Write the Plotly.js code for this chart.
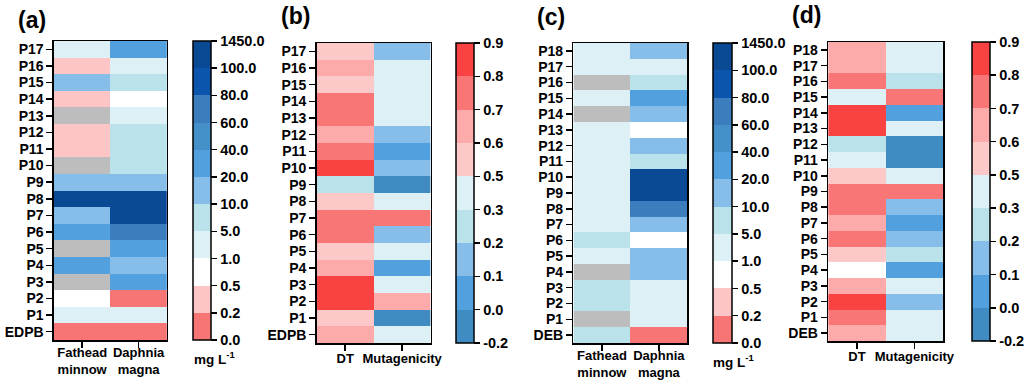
<!DOCTYPE html>
<html><head><meta charset="utf-8">
<script src="https://cdn.plot.ly/plotly-3.0.1.min.js"></script>
<style>html,body{margin:0;padding:0;background:#fff}#chart{width:1024px;height:385px}</style>
</head><body><div id="chart"></div>
<script>
// ---------- DATA (rows listed bottom -> top) ----------
const rowsA = ['EDPB','P1','P2','P3','P4','P5','P6','P7','P8','P9','P10','P11','P12','P13','P14','P15','P16','P17'];
const rowsC = ['DEB','P1','P2','P3','P4','P5','P6','P7','P8','P9','P10','P11','P12','P13','P14','P15','P16','P17','P18'];
const colsTox = ['Fathead<br>minnow','Daphnia<br>magna'];
const colsProp = ['DT','Mutagenicity'];

// (a) toxicity, mg L-1 (null = not available)
const a_fathead = [0.12, 2.5, 0.8, null, 28.4, null, 31.2, 14.6, 215, 16.3, null, 0.34, 0.41, null, 0.29, 12.8, 0.38, 3.6];
const a_daphnia = [0.09, 2.1, 0.15, 25.7, 13.2, 22.4, 66.3, 148, 312, 17.5, 6.8, 7.2, 8.1, 4.2, 0.72, 5.9, 3.3, 24.6];
// (b) probabilities
const b_dt  = [0.65, 0.55, 0.85, 0.84, 0.63, 0.56, 0.74, 0.76, 0.54, 0.27, 0.82, 0.73, 0.66, 0.72, 0.75, 0.57, 0.64, 0.53];
const b_mut = [0.38, -0.08, 0.62, 0.42, 0.06, 0.35, 0.14, 0.71, 0.44, -0.05, 0.16, 0.04, 0.12, 0.33, 0.37, 0.41, 0.39, 0.18];
// (c) toxicity, mg L-1
const c_fathead = [6.4, null, 7.1, 8.3, null, 2.7, 5.6, 3.1, 2.2, 4.5, 1.8, 3.9, 2.6, 1.4, null, 3.4, null, 2.9, 4.1];
const c_daphnia = [0.13, 3.7, 2.4, 1.9, 14.1, 11.8, 0.66, 16.2, 71.5, 186, 254, 8.7, 13.6, 0.91, 18.4, 27.3, 6.2, 4.4, 12.5];
// (d) probabilities
const d_dt  = [0.64, 0.74, 0.86, 0.63, null, 0.56, 0.72, 0.67, 0.75, 0.73, 0.58, 0.36, 0.24, 0.83, 0.87, 0.45, 0.76, 0.61, 0.62];
const d_mut = [0.37, 0.41, 0.13, 0.34, 0.03, 0.22, 0.17, 0.07, 0.11, 0.78, 0.39, -0.06, -0.11, 0.43, 0.02, 0.72, 0.26, 0.46, 0.32];

// colour-bar class boundaries
const edgesTox  = [0, 0.2, 0.5, 1, 5, 10, 20, 40, 60, 80, 100, 1450];
const edgesProb = [-0.2, 0, 0.1, 0.2, 0.3, 0.5, 0.6, 0.7, 0.8, 0.9];

// ---------- STYLE ----------
const colorsTox  = ['#f77575','#fdc5c5','#ffffff','#dcf0f5','#b9e2ea','#86bde9','#52a1de','#4590c8','#3b7dbd','#0b55ac','#0a4a95'];
const colorsProb = ['#3f8bc2','#52a1de','#86bde9','#b9e2ea','#dcf0f5','#fcc8c8','#fcaaaa','#f87676','#f94343'];
const FONT = 'Liberation Sans, Arial, sans-serif';
const W = 1024, H = 385;

function binOf(v, edges) {
  for (let i = 0; i < edges.length - 1; i++) if (v < edges[i + 1]) return i;
  return edges.length - 2;
}
function discreteScale(colors) {
  const n = colors.length, s = [];
  colors.forEach((c, i) => { s.push([i / n, c]); s.push([(i + 1) / n, c]); });
  return s;
}

const traces = [];
const layout = {
  width: W, height: H, margin: {l: 0, r: 0, t: 0, b: 0},
  paper_bgcolor: '#fff', plot_bgcolor: '#fff', showlegend: false,
  font: {family: FONT, color: '#000', weight: 'bold'},
  annotations: []
};

function panel(k, rows, cols, series, edges, colors, missColor, plotPx, cbPx, letter, letterPx, cbTitle, xStandoff) {
  const xa = k === 1 ? 'x' : 'x' + k, ya = k === 1 ? 'y' : 'y' + k;
  const n = edges.length - 1;
  const z = rows.map((r, i) => series.map(s => s[i] === null ? null : binOf(s[i], edges) + 0.5));
  const mask = rows.map((r, i) => series.map(s => s[i] === null ? 1 : null));
  traces.push({
    type: 'heatmap', x: cols, y: rows, z: mask, xaxis: xa, yaxis: ya,
    colorscale: [[0, missColor], [1, missColor]], showscale: false, zmin: 0, zmax: 1, hoverinfo: 'skip'
  });
  traces.push({
    type: 'heatmap', x: cols, y: rows, z: z, xaxis: xa, yaxis: ya,
    colorscale: discreteScale(colors), zmin: 0, zmax: n,
    colorbar: {
      x: cbPx[0] / W, xanchor: 'left', xpad: 0,
      y: 1 - cbPx[1] / H, yanchor: 'top', ypad: 0,
      len: cbPx[3] - cbPx[1], lenmode: 'pixels',
      thickness: cbPx[2] - cbPx[0], thicknessmode: 'pixels',
      outlinewidth: 1.5, outlinecolor: '#000',
      tickmode: 'array', tickvals: edges.map((e, i) => i), ticktext: edges.map(e => e.toFixed(1)),
      ticks: 'outside', ticklen: 6, tickwidth: 1.5, tickcolor: '#000',
      tickfont: {family: FONT, size: 14.5, color: '#000', weight: 'bold'}
    }
  });
  const axBase = {
    showline: true, mirror: true, linewidth: 1.5, linecolor: '#000',
    ticks: 'outside', ticklen: 6, tickwidth: 1.5, tickcolor: '#000',
    showgrid: false, zeroline: false, fixedrange: true, type: 'category'
  };
  layout[k === 1 ? 'xaxis' : 'xaxis' + k] = Object.assign({}, axBase, {
    domain: [plotPx[0] / W, plotPx[2] / W], anchor: ya, range: [-0.5, cols.length - 0.5],
    categoryorder: 'array', categoryarray: cols, tickmode: 'array', tickvals: cols, ticktext: cols,
    ticklabelstandoff: xStandoff,
    tickfont: {family: FONT, size: 13, color: '#000', weight: 'bold'}
  });
  layout[k === 1 ? 'yaxis' : 'yaxis' + k] = Object.assign({}, axBase, {
    domain: [1 - plotPx[3] / H, 1 - plotPx[1] / H], anchor: xa, range: [-0.5, rows.length - 0.5],
    categoryorder: 'array', categoryarray: rows, tickmode: 'array', tickvals: rows, ticktext: rows,
    tickfont: {family: FONT, size: 14, color: '#000', weight: 'bold'}
  });
  layout.annotations.push({
    text: letter, xref: 'paper', yref: 'paper', x: letterPx[0] / W, y: 1 - letterPx[1] / H,
    xanchor: 'left', yanchor: 'middle', showarrow: false,
    font: {family: FONT, size: 23, color: '#000', weight: 'bold'}
  });
  if (cbTitle) layout.annotations.push({
    text: cbTitle, xref: 'paper', yref: 'paper', x: cbPx[0] / W, y: 1 - (cbPx[3] + 18) / H,
    xanchor: 'left', yanchor: 'middle', showarrow: false, borderpad: 0,
    font: {family: FONT, size: 13.5, color: '#000', weight: 'bold'}
  });
}

panel(1, rowsA, colsTox, [a_fathead, a_daphnia], edgesTox, colorsTox, '#bdbdbd', [54, 41, 167, 340], [193, 41, 211, 340], '(a)', [16, 20], 'mg L<sup>-1</sup>', -6);
panel(2, rowsA, colsProp, [b_dt, b_mut], edgesProb, colorsProb, '#ffffff', [317, 43, 431, 343], [456, 43, 474, 343], '(b)', [279, 16], null, -3);
panel(3, rowsC, colsTox, [c_fathead, c_daphnia], edgesTox, colorsTox, '#bdbdbd', [574, 43, 688, 343], [713, 43, 732, 343], '(c)', [536, 17], 'mg L<sup>-1</sup>', -6);
panel(4, rowsC, colsProp, [d_dt, d_mut], edgesProb, colorsProb, '#ffffff', [829, 42, 944, 341], [972, 42, 990, 341], '(d)', [791, 15], null, -3);

Plotly.newPlot('chart', traces, layout, {staticPlot: true, displayModeBar: false});
</script></body></html>
